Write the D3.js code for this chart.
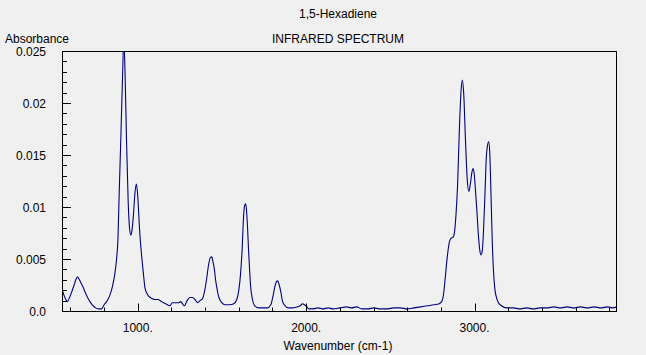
<!DOCTYPE html>
<html><head><meta charset="utf-8">
<script src="https://cdn.jsdelivr.net/npm/d3@7"></script>
<style>
html,body{margin:0;padding:0;background:#f0f0f0;}
svg{display:block;}
text{font-family:"Liberation Sans",Arial,sans-serif;font-size:12px;fill:#000;}
</style></head>
<body>
<svg id="chart" width="646" height="355"></svg>
<script>
const title = "1,5-Hexadiene";
const subtitle = "INFRARED SPECTRUM";
const yLabel = "Absorbance";
const xLabel = "Wavenumber (cm-1)";

const xDomain = [550, 3846];
const yDomain = [0, 0.025];
const xTickValues = [1000, 2000, 3000];
const xTickLabels = ["1000.", "2000.", "3000."];
const yTickValues = [0, 0.005, 0.01, 0.015, 0.02, 0.025];
const yTickLabels = ["0.0", "0.005", "0.01", "0.015", "0.02", "0.025"];

const wavenumbers = [550,560,570,582,595,607,620,632,642,650,660,675,690,705,720,735,750,765,785,800,815,834,850,864,874,882,890,900,910,917,924,933,943,951,959,966,974,983,992,1000,1010,1018,1026,1034,1042,1054,1066,1085,1102,1120,1141,1165,1191,1205,1221,1240,1255,1265,1276,1293,1310,1325,1340,1356,1370,1385,1398,1409,1420,1430,1439,1447,1455,1462,1470,1480,1490,1505,1520,1545,1570,1588,1600,1610,1620,1628,1634,1641,1647,1652,1658,1664,1670,1680,1695,1720,1745,1770,1790,1805,1815,1823,1831,1840,1850,1860,1875,1895,1920,1950,1965,1978,1990,2005,2015,2040,2070,2100,2130,2160,2200,2240,2270,2300,2330,2370,2400,2440,2480,2520,2560,2600,2640,2680,2720,2760,2790,2805,2815,2826,2838,2850,2860,2873,2882,2890,2899,2910,2920,2928,2936,2946,2956,2966,2975,2984,2991,2998,3006,3014,3022,3030,3038,3046,3054,3062,3070,3078,3084,3091,3098,3105,3112,3120,3130,3142,3160,3190,3230,3270,3310,3350,3390,3430,3470,3510,3550,3590,3630,3670,3710,3750,3790,3820,3846];
const absorbance = [0.0021,0.0016,0.0012,0.0009,0.0013,0.0018,0.0024,0.0030,0.0033,0.0031,0.0028,0.0023,0.0017,0.0012,0.0008,0.0005,0.0003,0.0002,0.0002,0.0006,0.0009,0.0015,0.0024,0.0036,0.0050,0.0068,0.0115,0.0170,0.0228,0.0262,0.0232,0.0165,0.0105,0.0080,0.0073,0.0078,0.0092,0.0113,0.0122,0.0110,0.0080,0.0062,0.0048,0.0035,0.0023,0.0017,0.0014,0.0012,0.0011,0.0011,0.0009,0.0007,0.0005,0.0008,0.0008,0.0008,0.0009,0.0007,0.0005,0.0010,0.0013,0.0013,0.0011,0.0008,0.0010,0.0012,0.0020,0.0031,0.0044,0.0051,0.0052,0.0047,0.0040,0.0030,0.0022,0.0014,0.0010,0.0007,0.0006,0.0006,0.0007,0.0011,0.0020,0.0035,0.0060,0.0090,0.0101,0.0103,0.0094,0.0080,0.0058,0.0040,0.0024,0.0012,0.0005,0.0003,0.0003,0.0003,0.0006,0.0016,0.0024,0.0028,0.0029,0.0025,0.0018,0.0009,0.0005,0.0003,0.0003,0.0004,0.0005,0.0007,0.0006,0.0004,0.0002,0.0002,0.0003,0.0002,0.0003,0.0002,0.0003,0.0004,0.0003,0.0004,0.0002,0.0002,0.0003,0.0002,0.0002,0.0003,0.0003,0.0002,0.0003,0.0004,0.0005,0.0006,0.0007,0.0009,0.0015,0.0032,0.0052,0.0066,0.0070,0.0071,0.0077,0.0093,0.0120,0.0175,0.0212,0.0222,0.0208,0.0165,0.0128,0.0115,0.0122,0.0133,0.0137,0.0132,0.0115,0.0096,0.0075,0.0060,0.0054,0.0058,0.0080,0.0113,0.0148,0.0160,0.0163,0.0150,0.0110,0.0068,0.0040,0.0022,0.0013,0.0008,0.0005,0.0003,0.0003,0.0002,0.0003,0.0002,0.0003,0.0003,0.0004,0.0003,0.0004,0.0003,0.0004,0.0003,0.0004,0.0003,0.0004,0.0003,0.0004];

const svg = d3.select("#chart");
const L = 62, R = 617, T = 51, B = 311;
const x = d3.scaleLinear().domain(xDomain).range([L, R]);
const y = d3.scaleLinear().domain(yDomain).range([B, T]);

svg.append("rect").attr("width", 646).attr("height", 355).attr("fill", "#f0f0f0");

svg.append("text").attr("x", 338).attr("y", 18).attr("text-anchor", "middle").text(title);
svg.append("text").attr("x", 338).attr("y", 43).attr("text-anchor", "middle").text(subtitle);
svg.append("text").attr("x", 5).attr("y", 43).text(yLabel);
svg.append("text").attr("x", 338).attr("y", 350).attr("text-anchor", "middle").text(xLabel);

svg.append("defs").append("clipPath").attr("id", "clip")
  .append("rect").attr("x", L).attr("y", T).attr("width", R - L).attr("height", B - T);

const data = wavenumbers.map((w, i) => ({w, a: absorbance[i]}));
const line = d3.line().x(d => x(d.w)).y(d => y(d.a)).curve(d3.curveMonotoneX);
svg.append("path").datum(data).attr("d", line).attr("fill", "none")
  .attr("stroke", "#000080").attr("stroke-width", 1.1).attr("clip-path", "url(#clip)");

// frame
svg.append("rect").attr("x", L + 0.5).attr("y", T + 0.5).attr("width", R - L - 1).attr("height", B - T)
  .attr("fill", "none").attr("stroke", "#000").attr("stroke-width", 1);

// x ticks
const xMinor = d3.range(600, xDomain[1], 200).filter(v => !xTickValues.includes(v));
const xb = B + 0.5;
svg.selectAll(".xminor").data(xMinor).enter().append("line")
  .attr("x1", d => Math.round(x(d)) + 0.5).attr("x2", d => Math.round(x(d)) + 0.5)
  .attr("y1", xb).attr("y2", xb - 4).attr("stroke", "#000");
svg.selectAll(".xmajor").data(xTickValues).enter().append("line")
  .attr("x1", d => Math.round(x(d)) + 0.5).attr("x2", d => Math.round(x(d)) + 0.5)
  .attr("y1", xb).attr("y2", xb - 8).attr("stroke", "#000");
svg.selectAll(".xlab").data(xTickValues).enter().append("text")
  .attr("x", d => x(d)).attr("y", 332).attr("text-anchor", "middle")
  .text((d, i) => xTickLabels[i]);

// y ticks
const yMinor = d3.range(0.001, 0.025, 0.001).filter(v => Math.abs(v / 0.005 - Math.round(v / 0.005)) > 1e-6);
svg.selectAll(".yminor").data(yMinor).enter().append("line")
  .attr("x1", L + 0.5).attr("x2", L + 5).attr("y1", d => Math.round(y(d)) + 0.5).attr("y2", d => Math.round(y(d)) + 0.5)
  .attr("stroke", "#000");
svg.selectAll(".ymajor").data(yTickValues).enter().append("line")
  .attr("x1", L + 0.5).attr("x2", L + 9).attr("y1", d => Math.round(y(d)) + 0.5).attr("y2", d => Math.round(y(d)) + 0.5)
  .attr("stroke", "#000");
svg.selectAll(".ylab").data(yTickValues).enter().append("text")
  .attr("x", 46).attr("y", d => y(d) + 5).attr("text-anchor", "end")
  .text((d, i) => yTickLabels[i]);
</script>
</body></html>
